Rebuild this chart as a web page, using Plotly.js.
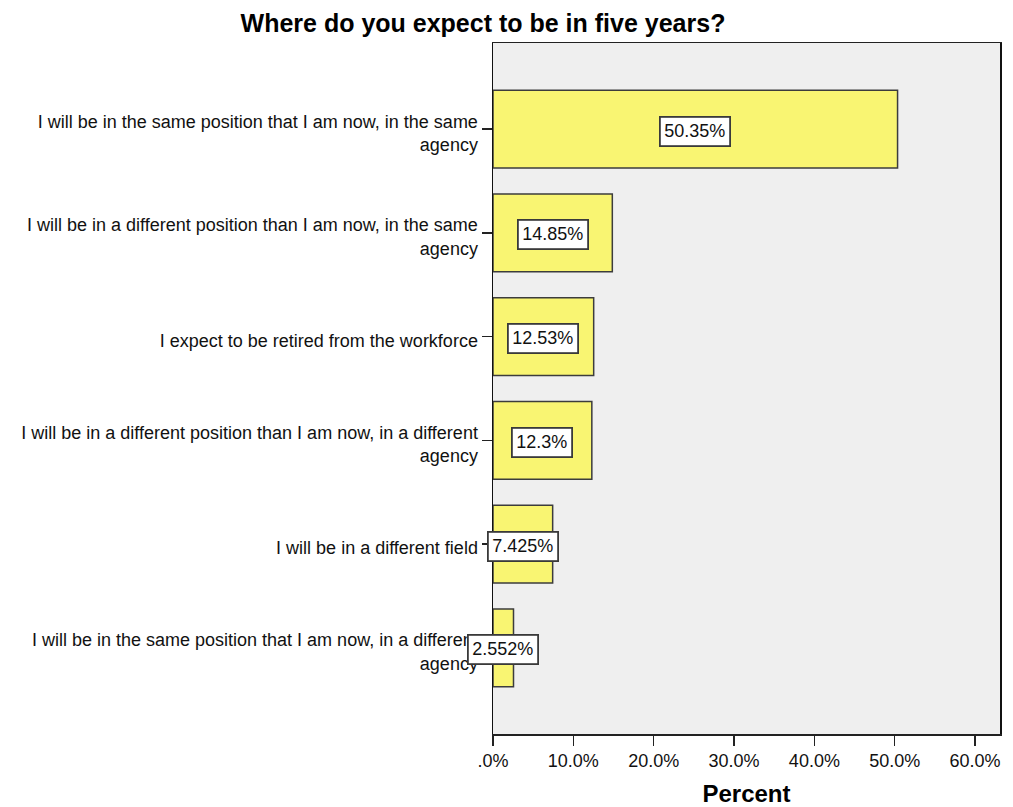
<!DOCTYPE html>
<html>
<head>
<meta charset="utf-8">
<script src="https://cdn.plot.ly/plotly-3.0.1.min.js"></script>
<style>html,body{margin:0;padding:0;background:#fff;}#chart{width:1013px;height:807px;}</style>
</head>
<body>
<div id="chart"></div>
<script>
const categories = [
  "I will be in the same position that I am now, in the same<br>agency",
  "I will be in a different position than I am now, in the same<br>agency",
  "I expect to be retired from the workforce",
  "I will be in a different position than I am now, in a different<br>agency",
  "I will be in a different field",
  "I will be in the same position that I am now, in a different<br>agency"
];
const percents = [50.35, 14.85, 12.53, 12.3, 7.425, 2.552];
const xTickVals = [0, 10, 20, 30, 40, 50, 60];
const xTickText = [".0%", "10.0%", "20.0%", "30.0%", "40.0%", "50.0%", "60.0%"];

const FONT = "Liberation Sans, Arial, sans-serif";

const trace = {
  type: "bar",
  orientation: "h",
  x: percents,
  y: categories,
  width: 0.75,
  marker: {color: "#F9F572", line: {color: "#3c3c3c", width: 1.5}},
  hoverinfo: "none"
};

const annotations = percents.map((v, i) => ({
  x: v / 2, y: categories[i], xref: "x", yref: "y",
  text: String(v) + "%",
  showarrow: false,
  xanchor: "center", yanchor: "middle",
  yshift: -2,
  bgcolor: "#ffffff",
  bordercolor: "#3a3a3a",
  borderwidth: 1.8,
  borderpad: 3.5,
  font: {family: FONT, size: 18, color: "#111"}
}));

const layout = {
  width: 1013, height: 807,
  margin: {l: 493, r: 13, t: 43, b: 73},
  paper_bgcolor: "#ffffff",
  plot_bgcolor: "#EFEFEF",
  showlegend: false,
  title: {
    text: "Where do you expect to be in five years?",
    font: {family: FONT, size: 25, color: "#000", weight: "bold"},
    xref: "container", x: 0.4768, xanchor: "center",
    yref: "container", y: 0.971, yanchor: "middle"
  },
  xaxis: {
    range: [0, 63.1],
    tickvals: xTickVals, ticktext: xTickText,
    ticks: "outside", ticklen: 10, tickcolor: "#222", tickwidth: 1.5,
    showgrid: false, zeroline: false,
    showline: true, linecolor: "#222", linewidth: 1.5, mirror: true,
    tickfont: {family: FONT, size: 18, color: "#111"},
    title: {text: "Percent", font: {family: FONT, size: 24, color: "#000", weight: "bold"}, standoff: 16}
  },
  yaxis: {
    type: "category",
    categoryorder: "array", categoryarray: categories,
    range: [5.83, -0.83],
    ticks: "outside", ticklen: 10, tickcolor: "#222", tickwidth: 1.5,
    showgrid: false, zeroline: false,
    showline: true, linecolor: "#111", linewidth: 1.5, mirror: true,
    tickfont: {family: FONT, size: 18, color: "#111"},
    ticklabelshift: -4
  },
  annotations: annotations
};

Plotly.newPlot("chart", [trace], layout, {staticPlot: true, displayModeBar: false});
</script>
</body>
</html>
